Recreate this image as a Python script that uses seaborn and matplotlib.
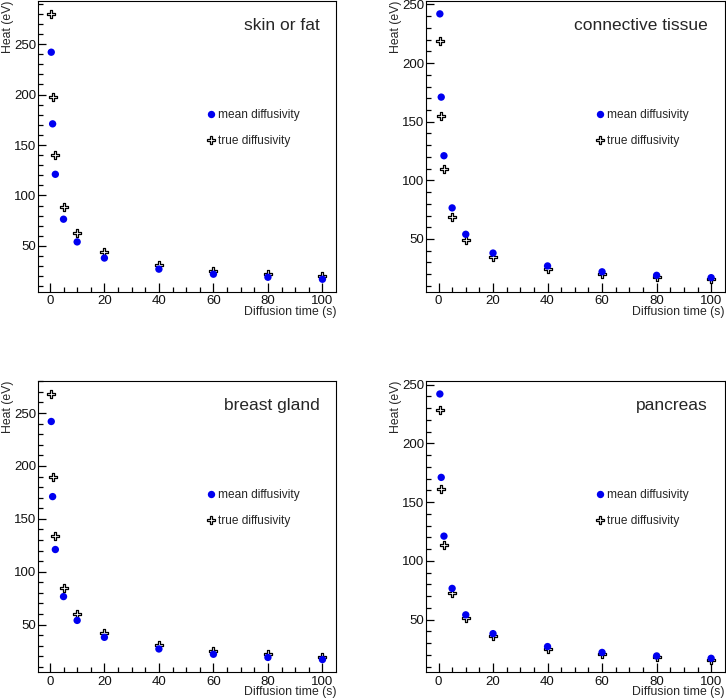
import matplotlib
matplotlib.use("Agg")
import matplotlib.pyplot as plt
import numpy as np
import pandas as pd
import seaborn as sns
from matplotlib.lines import Line2D
from matplotlib.ticker import MultipleLocator

# ── Data ──────────────────────────────────────────────────────────────────────
diffusion_time = [0.5, 1, 2, 5, 10, 20, 40, 60, 80, 100]
mean_diffusivity = [242, 171, 121, 76.5, 54, 38, 27, 22, 19, 17]

tissues = ["skin or fat", "connective tissue", "breast gland", "pancreas"]
true_skin = [280, 197.4, 140, 88.4, 62.6, 44.4, 31.2, 25.5, 22.2, 20]
true_connective = [218.8, 154.7, 109.5, 69, 49.2, 34.7, 24.7, 20.2, 17.6, 15.6]
true_breast = [268, 189.4, 133.9, 84.7, 60.1, 42.4, 30.4, 24.7, 21.9, 19.7]
true_pancreas = [228, 161.2, 113.7, 72.2, 50.9, 35.8, 25.3, 20.4, 18.1, 15.9]
true_values = [true_skin, true_connective, true_breast, true_pancreas]

# ── Style ─────────────────────────────────────────────────────────────────────
sns.set_theme(style="ticks")
plt.rcParams["font.family"] = ["Liberation Sans", "DejaVu Sans"]
plt.rcParams.update({
    "axes.edgecolor": "black", "axes.linewidth": 0.8,
    "xtick.direction": "in", "ytick.direction": "in",
    "xtick.color": "black", "ytick.color": "black",
    "xtick.major.width": 0.9, "ytick.major.width": 0.9,
    "xtick.minor.width": 0.9, "ytick.minor.width": 0.9,
})

BLUE = "#0000f0"
W, H = 726, 699
fig = plt.figure(figsize=(W / 100, H / 100), dpi=100)

# axes boxes in pixels: left, top, width, height
boxes = [
    (37.7, 0.6, 298.3, 291.4),
    (426.3, 0.6, 298.4, 291.4),
    (37.7, 380.7, 298.3, 291.6),
    (426.3, 380.7, 298.4, 291.6),
]

for box, tissue, true_y in zip(boxes, tissues, true_values):
    l, t, w, h = box
    ax = fig.add_axes([l / W, 1 - (t + h) / H, w / W, h / H])

    df = pd.DataFrame({"time": diffusion_time,
                       "mean": mean_diffusivity,
                       "true": true_y})

    sns.scatterplot(data=df, x="time", y="true", ax=ax, marker="P",
                    s=32, facecolor="white", edgecolor="black",
                    linewidth=0.9, zorder=2, legend=False)
    sns.scatterplot(data=df, x="time", y="mean", ax=ax, marker="o",
                    s=28, color=BLUE, edgecolor="none",
                    linewidth=0, zorder=3, legend=False)

    # ROOT-like auto range (5% margins)
    xs = np.array(diffusion_time, dtype=float)
    ys = np.concatenate([mean_diffusivity, true_y])
    dx, dy = xs.max() - xs.min(), ys.max() - ys.min()
    ax.set_xlim(xs.min() - 0.05 * dx, xs.max() + 0.05 * dx)
    ax.set_ylim(ys.min() - 0.05 * dy + 0.5, ys.max() + 0.05 * dy)

    ax.xaxis.set_major_locator(MultipleLocator(20))
    ax.xaxis.set_minor_locator(MultipleLocator(5))
    ax.yaxis.set_major_locator(MultipleLocator(50))
    ax.yaxis.set_minor_locator(MultipleLocator(10))
    ax.tick_params(axis="both", which="both", direction="in",
                   bottom=True, left=True, top=False, right=False)
    ax.tick_params(axis="x", which="major", length=6.3, pad=2.5,
                   labelsize=9.5, labelcolor="#111111")
    ax.tick_params(axis="y", which="major", length=5.8, pad=1.2,
                   labelsize=9.5, labelcolor="#111111")
    ax.tick_params(axis="both", which="minor", length=3.5)

    ax.set_xlabel("Diffusion time (s)", fontsize=8.8, ha="right", va="center")
    ax.xaxis.set_label_coords(1.0, -20 / h)
    ax.set_ylabel("Heat (eV)", fontsize=8.8, ha="right", va="center")
    ax.yaxis.set_label_coords(-30 / w, 1.0)

    ax.text(0.944, 0.914, tissue, transform=ax.transAxes,
            ha="right", va="center", fontsize=12.5)

    handles = [
        Line2D([], [], ls="none", marker="o", markersize=5.3,
               markerfacecolor=BLUE, markeredgewidth=0),
        Line2D([], [], ls="none", marker="P", markersize=5.6,
               markerfacecolor="white", markeredgecolor="black",
               markeredgewidth=0.9),
    ]
    ax.legend(handles, ["mean diffusivity", "true diffusivity"],
              loc="center left", bbox_to_anchor=(0.563, 0.563),
              frameon=False, fontsize=8.6, handlelength=0.9,
              handletextpad=0.15, labelspacing=1.15,
              borderaxespad=0, borderpad=0)

fig.savefig("out.png", dpi=100, facecolor="white")
